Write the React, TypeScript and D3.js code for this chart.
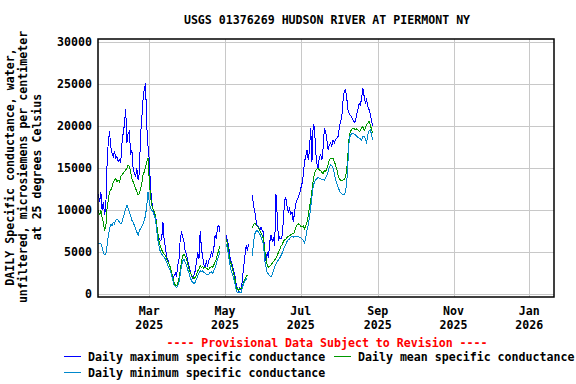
import React from 'react';
import * as d3 from 'd3';

const TITLE = 'USGS 01376269 HUDSON RIVER AT PIERMONT NY';
const Y_TITLE_LINES = [
  'DAILY Specific conductance, water,',
  'unfiltered, microsiemens per centimeter',
  'at 25 degrees Celsius',
];
const PROVISIONAL = '---- Provisional Data Subject to Revision ----';

// Daily values starting 2025-01-19 (null = no data)
const FIRST_DAY = [2025, 0, 19];

const maxValues: (number | null)[] = [
  12000, 11000, 12200, 10000, 11000, 9400, 10500, 15500, 18200, 19400,
  17500, 16800, 16400, 17000, 16200, 16400, 15800, 16000, 15600, 18000,
  19200, 20200, 22100, 18000, 19200, 19400, 16600, 17200, 15000, 14400,
  14000, 15000, 13600, 14400, 19000, 21000, 23300, 24500, 25100, 20000,
  17600, 16000, 12800, 11000, 10200, 9600, 9200, 8500, 6500, 6600,
  6400, 6600, 8600, 6400, 5600, 4400, 4100, 3500, 3100, 2400,
  1900, 2200, 2500, 2200, 3500, 4200, 6800, 7300, 6800, 6200,
  5000, 4800, 4000, 3400, 2800, 2200, 1900, 2300, 2800, 3800,
  5000, 4200, 7500, 5500, 4400, 3500, 3300, 3900, 3400, 4000,
  4400, 5000, 4600, 5500, 7000, 6600, 8000, 8200, 7400, null,
  null, null, null, 7000, 6400, 5600, 4400, 3800, 3400, 2800,
  2200, 1200, 600, 400, 800, 500, 1800, 3200, 4600, 5800,
  5200, 6000, null, null, 11800, 10600, 9800, 8800, 8100, 8000,
  7600, 8000, 7600, 7400, 4600, 4000, 5000, 4300, 6200, 7100,
  6300, 6800, 5800, 12000, 9500, 6500, 6800, 6600, 7000, 8800,
  11200, 11500, 10400, 9800, 10200, 9500, 9800, 8600, 9800, 10800,
  11200, 11600, 12000, 12600, 13200, 14200, 15800, 16400, 17200, 16000,
  17200, 19800, 15800, 20200, 20000, 17000, 15600, 15000, 16400, 16600,
  16000, 17400, 19800, 19400, 18400, 17200, 17800, 18000, 17600, 18400,
  18000, 18400, 18600, 18800, 19800, 20600, 21000, 23000, 24200, 24400,
  23400, 22000, 21500, 21300, 21100, 20800, 20500, 20600, 21400, 22000,
  22700, 22500, 23400, 24500, 23600, 22800, 23200, 22300, 22000, 21400,
  20600, 20000,
];

const meanValues: (number | null)[] = [
  10000, 9400, 10000, 9200, 8600, 7600, 8000, 10200, 11200, 12200,
  12400, 12800, 13400, 13600, 13800, 13400, 13600, 13400, 14000, 14200,
  14400, 14600, 14800, 15000, 15400, 15200, 14600, 13800, 13400, 13000,
  12600, 12200, 11800, 12000, 12600, 13200, 14200, 14600, 15200, 15800,
  16200, 13600, 11600, 10600, 10200, 9800, 9400, 8200, 7200, 6200,
  5700, 5300, 5000, 4800, 4600, 4200, 3900, 3600, 3200, 2600,
  2000, 1400, 1100, 1000, 1300, 2000, 2800, 4000, 4600, 4800,
  4500, 4200, 3600, 3000, 2600, 2300, 2000, 1900, 2000, 2300,
  2800, 3000, 3400, 3200, 3300, 3100, 3200, 3100, 3000, 3000,
  3200, 3300, 3200, 3500, 3900, 4200, 4800, 5300, 5800, null,
  null, null, null, 6600, 6000, 5000, 4000, 3600, 3000, 2400,
  1800, 900, 600, 500, 700, 600, 1000, 1500, 1800, 2100,
  2300, null, null, null, 7900, 8300, 8500, 8200, 8100, 7900,
  7600, 7300, 7000, 6600, 5200, 4300, 3500, 3200, 3300, 3500,
  3700, 3900, 4100, 4300, 4600, 5000, 5300, 5700, 5900, 6300,
  6500, 6600, 6800, 6900, 7000, 7100, 7200, 7200, 7400, 8000,
  8300, 8400, 8300, 8100, 8000, 8200, 7800, 8200, 8600, 9400,
  10400, 11200, 12400, 13600, 14400, 14800, 14900, 15000, 14800, 14700,
  14500, 14400, 14700, 14600, 15000, 15400, 16000, 16200, 16100, 16200,
  15800, 15400, 14900, 14200, 13800, 13600, 13600, 13600, 13700, 14000,
  14800, 16800, 18800, 19400, 19600, 19800, 19700, 19600, 19700, 19600,
  19400, 19500, 19800, 20000, 19500, 19800, 20200, 20400, 20600, 20200,
  19600, 19200,
];

const minValues: (number | null)[] = [
  6100, 6100, 6000, 5600, 5000, 4700, 4800, 5800, 6900, 7800,
  8300, 8200, 8600, 8400, 8800, 9000, 8800, 8600, 8400, 8600,
  9200, 9600, 10200, 10600, 10200, 9800, 9400, 8800, 8600, 8200,
  7800, 7400, 7000, 7600, 7800, 8100, 8400, 8800, 9400, 10600,
  12200, 11000, 10200, 10000, 9800, 9400, 9000, 7600, 6400, 5600,
  5000, 4800, 4600, 4400, 4200, 3800, 3400, 3100, 2800, 2200,
  1600, 1100, 900, 800, 1000, 1500, 2400, 3400, 4000, 4200,
  3800, 3400, 2900, 2500, 2000, 1600, 1400, 1300, 1400, 1800,
  2200, 2500, 2800, 2700, 2800, 2600, 2500, 2400, 2300, 2400,
  2600, 2700, 2500, 2800, 3200, 3600, 4200, 4600, 5200, null,
  null, null, null, 6000, 5400, 4400, 3500, 2800, 2400, 1800,
  1300, 500, 200, 200, 300, 200, 800, 1300, 1600, 1800,
  1900, null, null, null, 4600, 6300, 7200, 7500, 7600, 7400,
  7200, 6800, 6400, 5900, 4000, 3200, 2600, 2400, 2200, 2100,
  2300, 2800, 3300, 3600, 3900, 4100, 4300, 4600, 4900, 5300,
  5700, 6000, 6300, 6500, 6600, 6800, 6900, 6800, 6900, 6900,
  6800, 6900, 6800, 6700, 6600, 6400, 6100, 6800, 7600, 8300,
  9200, 10400, 11600, 12800, 13400, 13600, 13800, 13900, 13800, 13800,
  13600, 13700, 13600, 13900, 14200, 14600, 15200, 15400, 15300, 15000,
  14400, 13600, 13200, 12800, 12400, 12100, 12000, 11800, 11900, 12200,
  13200, 15800, 18400, 19000, 19100, 19200, 19100, 19000, 18800, 18700,
  18600, 18500, 18300, 18800, 18800, 18500, 18100, 19000, 19500, 19600,
  19000, 18400,
];

const Y_TICKS = [0, 5000, 10000, 15000, 20000, 25000, 30000];
const X_TICK_DATES: [number, number][] = [
  [2025, 2], [2025, 4], [2025, 6], [2025, 8], [2025, 10], [2026, 0],
];
const X_TICK_MONTHS = ['Mar', 'May', 'Jul', 'Sep', 'Nov', 'Jan'];
const X_TICK_YEARS = ['2025', '2025', '2025', '2025', '2025', '2026'];

const LEGEND_LABELS = [
  'Daily maximum specific conductance',
  'Daily mean specific conductance',
  'Daily minimum specific conductance',
];

const COLORS = { max: '#0000ff', mean: '#009900', min: '#0088cc' };
const FONT = '"DejaVu Sans Mono", "Liberation Mono", monospace';

export default function App() {
  const W = 576;
  const H = 384;
  const left = 98, right = 554, top = 39, bottom = 297;

  const x = d3
    .scaleUtc()
    .domain([new Date(Date.UTC(2025, 0, 18, 17)), new Date(Date.UTC(2026, 0, 20, 22))])
    .range([left, right]);
  const y = d3.scaleLinear().domain([-320, 30400]).range([bottom, top]);

  const dateAt = (i: number) => new Date(Date.UTC(FIRST_DAY[0], FIRST_DAY[1], FIRST_DAY[2] + i));

  const line = d3
    .line<number | null>()
    .defined((v) => v != null)
    .x((_, i) => x(dateAt(i)))
    .y((v) => y(v as number));

  const series = [
    { key: 'max', values: maxValues, color: COLORS.max },
    { key: 'mean', values: meanValues, color: COLORS.mean },
    { key: 'min', values: minValues, color: COLORS.min },
  ];

  const textStyle = { fontFamily: FONT, fontWeight: 700, fontSize: 11.6 } as const;
  const cx = (left + right) / 2;

  return (
    <svg
      width={W}
      height={H}
      style={{ position: 'absolute', left: 0, top: 0, background: '#fff' }}
    >
      <rect x={0} y={0} width={W} height={H} fill="#fff" />
      <text x={cx + 1} y={24} textAnchor="middle" style={textStyle} fill="#000">
        {TITLE}
      </text>

      {/* grid */}
      {Y_TICKS.map((t) => (
        <line
          key={'gy' + t}
          x1={left}
          x2={right}
          y1={Math.round(y(t)) + 0.5}
          y2={Math.round(y(t)) + 0.5}
          stroke="#c8c8c8"
          strokeWidth={1}
        />
      ))}
      {X_TICK_DATES.map(([yr, m], i) => {
        const px = Math.round(x(new Date(Date.UTC(yr, m, 1)))) + 0.5;
        return (
          <line key={'gx' + i} x1={px} x2={px} y1={top} y2={bottom} stroke="#c8c8c8" strokeWidth={1} />
        );
      })}

      {/* data */}
      <g fill="none" strokeWidth={1} shapeRendering="crispEdges">
        {series.map((s) => (
          <path key={s.key} d={line(s.values) || ''} stroke={s.color} />
        ))}
      </g>

      {/* frame */}
      <rect
        x={left}
        y={top}
        width={right - left}
        height={bottom - top}
        fill="none"
        stroke="#000"
        strokeWidth={1.5}
      />

      {/* y tick labels */}
      {Y_TICKS.map((t) => (
        <text
          key={'ty' + t}
          x={92}
          y={y(t) + 4}
          textAnchor="end"
          style={textStyle}
          fill="#000"
        >
          {t}
        </text>
      ))}

      {/* x tick labels */}
      {X_TICK_DATES.map(([yr, m], i) => {
        const px = x(new Date(Date.UTC(yr, m, 1)));
        return (
          <g key={'tx' + i}>
            <text x={px} y={315} textAnchor="middle" style={textStyle} fill="#000">
              {X_TICK_MONTHS[i]}
            </text>
            <text x={px} y={329} textAnchor="middle" style={textStyle} fill="#000">
              {X_TICK_YEARS[i]}
            </text>
          </g>
        );
      })}

      {/* y axis title */}
      {Y_TITLE_LINES.map((l, i) => {
        const lx = 14 + i * 13.3;
        return (
          <text
            key={'yt' + i}
            transform={`translate(${lx},167) rotate(-90)`}
            textAnchor="middle"
            style={textStyle}
            fill="#000"
          >
            {l}
          </text>
        );
      })}

      {/* provisional */}
      <text x={327} y={347} textAnchor="middle" style={textStyle} fill="#ff0000">
        {PROVISIONAL}
      </text>

      {/* legend */}
      <line x1={64} x2={81} y1={356.5} y2={356.5} stroke={COLORS.max} strokeWidth={1} />
      <text x={88} y={361} style={textStyle} fill="#000">
        {LEGEND_LABELS[0]}
      </text>
      <line x1={334} x2={351} y1={356.5} y2={356.5} stroke={COLORS.mean} strokeWidth={1} />
      <text x={358} y={361} style={textStyle} fill="#000">
        {LEGEND_LABELS[1]}
      </text>
      <line x1={64} x2={81} y1={372.5} y2={372.5} stroke={COLORS.min} strokeWidth={1} />
      <text x={88} y={377} style={textStyle} fill="#000">
        {LEGEND_LABELS[2]}
      </text>
    </svg>
  );
}
